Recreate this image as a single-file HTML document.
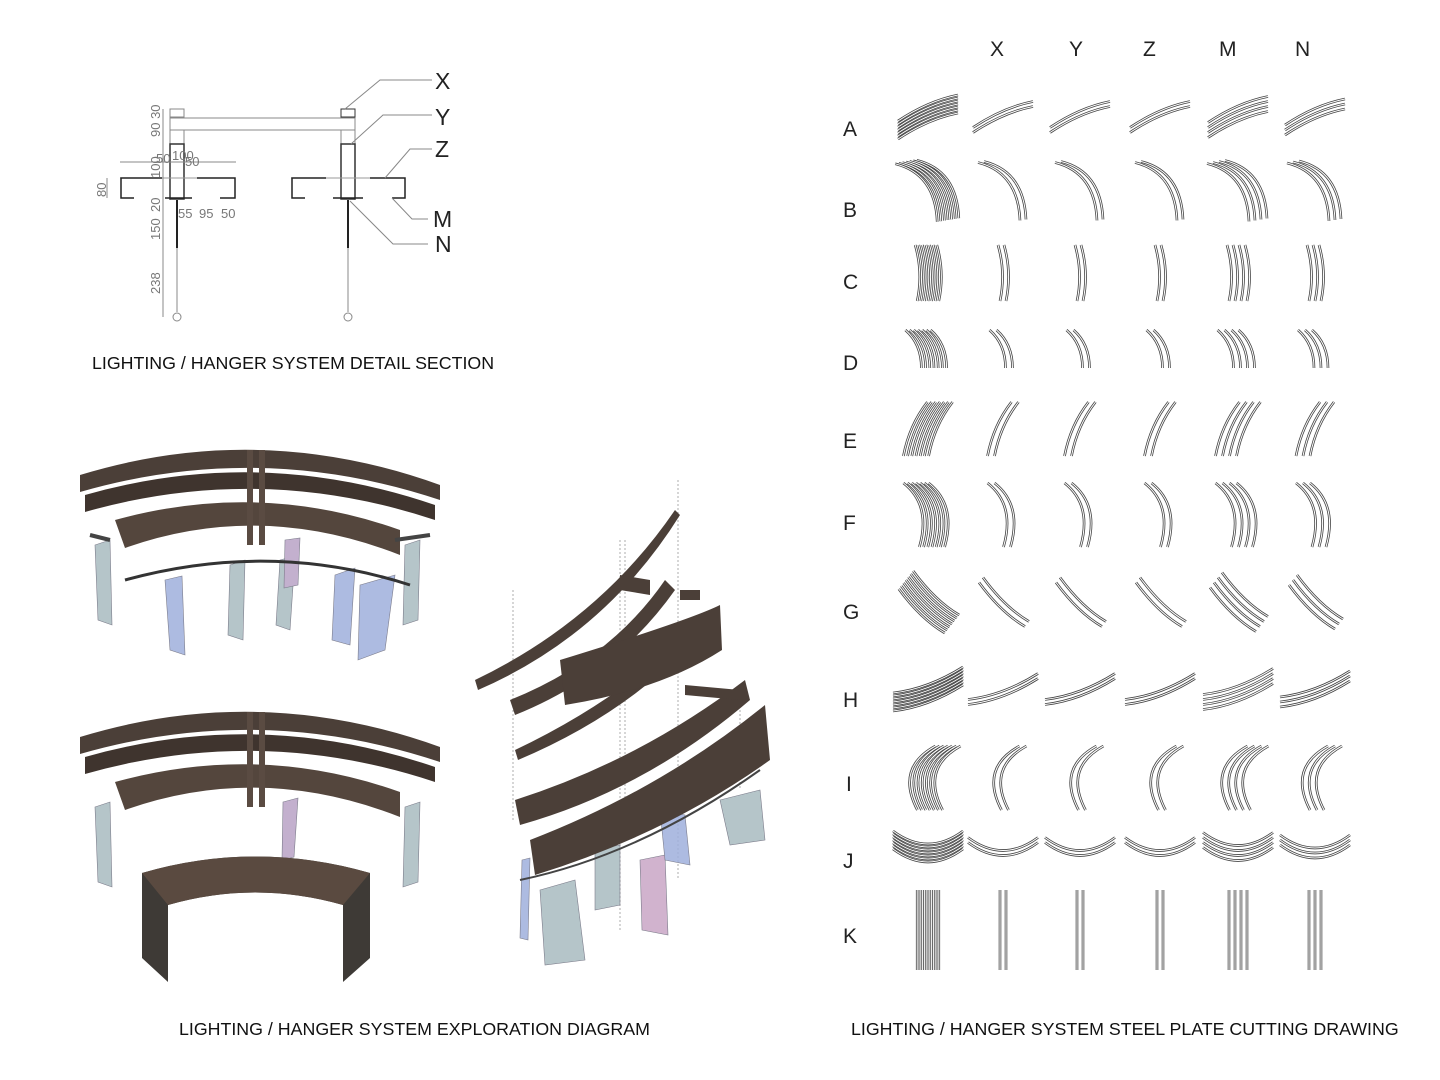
<!DOCTYPE html>
<html><head><meta charset="utf-8"><style>
body{margin:0;background:#fff;width:1440px;height:1080px;overflow:hidden}
svg{display:block}
text{font-family:"Liberation Sans",sans-serif}
</style></head><body>
<svg id="s" width="1440" height="1080" viewBox="0 0 1440 1080" xmlns="http://www.w3.org/2000/svg">
<rect width="1440" height="1080" fill="#fff"/>
<!-- detail section -->
<g stroke="#888" fill="none" stroke-width="1">
<rect x="170" y="109" width="14" height="8"/><rect x="341" y="109" width="14" height="8" stroke="#333"/>
<rect x="170" y="118" width="185" height="12"/>
<line x1="170" y1="130" x2="170" y2="200"/><line x1="184" y1="130" x2="184" y2="144"/>
<line x1="341" y1="130" x2="341" y2="144"/><line x1="355" y1="130" x2="355" y2="200"/>
<rect x="170" y="144" width="14" height="55" stroke="#333" stroke-width="1.5"/>
<rect x="341" y="144" width="14" height="55" stroke="#333" stroke-width="1.5"/>
<path d="M120 178 H235 M291 178 H405" stroke="#999"/>
<path d="M134 198 H121 V178 H162 M197 178 H235 V198 H220 M165 198 H192" stroke="#222" stroke-width="1.5"/>
<path d="M305 198 H292 V178 H326 M370 178 H405 V198 H392 M333 198 H363" stroke="#222" stroke-width="1.5"/>
<line x1="177" y1="200" x2="177" y2="248" stroke="#222" stroke-width="2"/>
<line x1="348" y1="200" x2="348" y2="248" stroke="#222" stroke-width="2"/>
<line x1="177" y1="248" x2="177" y2="312"/><line x1="348" y1="248" x2="348" y2="312"/>
<circle cx="177" cy="317" r="4"/><circle cx="348" cy="317" r="4"/>
<line x1="163" y1="109" x2="163" y2="317"/>
<line x1="120" y1="162" x2="236" y2="162"/><line x1="107" y1="178" x2="107" y2="198"/>
<path d="M345 109 L380 80 H432 M351 144 L383 115 H432 M385 178 L410 149 H432 M392 198 L412 219 H428 M350 201 L393 244 H428"/>
</g>
<g font-size="13" fill="#777">
<text x="160" y="137" transform="rotate(-90 160 137)">90 30</text>
<text x="160" y="178" transform="rotate(-90 160 178)">100</text>
<text x="160" y="212" transform="rotate(-90 160 212)">20</text>
<text x="160" y="240" transform="rotate(-90 160 240)">150</text>
<text x="160" y="294" transform="rotate(-90 160 294)">238</text>
<text x="106" y="197" transform="rotate(-90 106 197)">80</text>
<text x="156" y="163">50</text><text x="172" y="160">100</text><text x="185" y="166">50</text>
<text x="178" y="218">55</text><text x="199" y="218">95</text><text x="221" y="218">50</text>
</g>
<g font-size="23" fill="#222"><text x="435" y="89">X</text><text x="435" y="125">Y</text><text x="435" y="157">Z</text><text x="433" y="227">M</text><text x="435" y="252">N</text></g>
<g font-size="17.8" fill="#111">
<text x="92" y="369">LIGHTING / HANGER SYSTEM DETAIL SECTION</text>
<text x="179" y="1035">LIGHTING / HANGER SYSTEM EXPLORATION DIAGRAM</text>
<text x="851" y="1035">LIGHTING / HANGER SYSTEM STEEL PLATE CUTTING DRAWING</text>
</g>
<!-- 3D structures -->
<g id="top">
<g fill="#a9bcc0" stroke="#667" stroke-width=".6" opacity=".85">
<path d="M95 545 L110 540 L112 625 L98 620Z"/><path d="M165 580 L182 576 L185 655 L170 650Z" fill="#9fb0dc"/>
<path d="M230 565 L245 560 L243 640 L228 635Z"/><path d="M280 560 L295 556 L290 630 L276 625Z"/>
<path d="M285 540 L300 538 L298 585 L284 588Z" fill="#b9a3c6"/>
<path d="M335 575 L355 568 L350 645 L332 640Z" fill="#9fb0dc"/><path d="M360 585 L395 575 L385 650 L358 660Z" fill="#9fb0dc"/>
<path d="M405 545 L420 540 L418 620 L403 625Z"/>
</g>
<path d="M125 580 Q270 540 410 585" stroke="#333" stroke-width="3" fill="none"/>
<path d="M80 475 Q260 420 440 485 L440 500 Q260 440 80 492Z" fill="#4b3f38"/>
<path d="M85 495 Q260 445 435 505 L435 520 Q260 462 85 512Z" fill="#3f342e"/>
<path d="M115 520 Q260 480 400 530 L400 555 Q260 500 125 548Z" fill="#54463d"/>
<path d="M90 535 L110 540 M395 540 L430 535" stroke="#444" stroke-width="4"/>
<path d="M250 450 V545 M262 450 V545" stroke="#5a4b42" stroke-width="6"/>
</g>
<g transform="translate(0,262)">
<g fill="#a9bcc0" stroke="#667" stroke-width=".6" opacity=".85">
<path d="M95 545 L110 540 L112 625 L98 620Z"/><path d="M283 540 L298 536 L294 595 L282 598Z" fill="#b9a3c6"/><path d="M405 545 L420 540 L418 620 L403 625Z"/>
</g>
<path d="M80 475 Q260 420 440 485 L440 500 Q260 440 80 492Z" fill="#4b3f38"/>
<path d="M85 495 Q260 445 435 505 L435 520 Q260 462 85 512Z" fill="#3f342e"/>
<path d="M115 520 Q260 480 400 530 L400 555 Q260 500 125 548Z" fill="#54463d"/>
<path d="M250 450 V545 M262 450 V545" stroke="#5a4b42" stroke-width="6"/>
</g>
<path d="M142 873 Q255 840 370 873 L370 958 L343 982 L343 905 Q255 880 168 905 L168 982 L142 958Z" fill="#3e3a36"/>
<path d="M142 873 Q255 840 370 873 L343 905 Q255 880 168 905Z" fill="#5a4a40"/>
<!-- exploded -->
<g stroke="#999" stroke-width=".8" stroke-dasharray="2 2"><path d="M513 590 V820 M620 540 V930 M625 540 V840 M678 480 V880 M740 690 V790"/></g>
<g fill="#a9bcc0" stroke="#667" stroke-width=".6" opacity=".85">
<path d="M522 860 L530 858 L528 940 L520 938Z" fill="#9fb0dc"/><path d="M540 890 L575 880 L585 960 L545 965Z"/>
<path d="M595 850 L620 845 L620 905 L595 910Z"/><path d="M640 860 L665 855 L668 935 L642 930Z" fill="#c9a6c6"/>
<path d="M660 810 L685 815 L690 865 L665 860Z" fill="#9fb0dc"/><path d="M720 800 L760 790 L765 840 L730 845Z"/>
</g>
<g fill="#4b3f38">
<path d="M475 680 Q600 620 675 510 L680 515 Q605 635 478 690Z"/>
<path d="M510 700 Q610 660 665 580 L675 590 Q615 675 515 715Z"/>
<path d="M515 750 Q620 700 690 630 L695 640 Q625 715 518 760Z"/>
<path d="M560 660 Q690 620 720 605 L722 650 Q660 690 565 705Z"/>
<path d="M515 800 Q640 760 745 680 L750 700 Q645 790 520 825Z"/>
<path d="M530 840 Q660 790 765 705 L770 760 Q665 835 535 875Z"/>
<path d="M620 575 L650 580 L650 595 L620 590Z M680 590 L700 590 L700 600 L680 600Z M685 685 L740 690 L740 700 L685 695Z"/>
</g>
<g stroke="#444" stroke-width="2" fill="none"><path d="M520 880 Q640 855 760 770"/></g>
<!-- grid -->
<g font-size="21" fill="#222">
<text x="990" y="56">X</text><text x="1069" y="56">Y</text><text x="1143" y="56">Z</text><text x="1219" y="56">M</text><text x="1295" y="56">N</text>
<text x="843" y="136">A</text><text x="843" y="217">B</text><text x="843" y="289">C</text><text x="843" y="370">D</text><text x="843" y="448">E</text><text x="843" y="530">F</text><text x="843" y="619">G</text><text x="843" y="707">H</text><text x="846" y="791">I</text><text x="843" y="868">J</text><text x="843" y="943">K</text>
</g>
<g id="grid" fill="none"></g>
</svg>
<script>
var rows=[
[118,"M-30 12 Q0 -8 30 -14",0,5],
[190,"M-22 -28 Q18 -18 20 30",-6,1],
[273,"M-2 -28 Q6 0 0 28",6,0],
[348,"M-10 -18 Q6 -4 6 20",7,0],
[430,"M-12 26 Q-6 -5 12 -28",7,0],
[515,"M-12 -32 Q16 -10 4 32",7,0],
[602,"M-22 -22 Q0 8 24 22",4,-5],
[688,"M-35 14 Q0 10 35 -12",0,5],
[778,"M20 -32 Q-20 -10 2 32",7,0],
[848,"M-35 -8 Q0 18 35 -8",0,5],
[930,"M0 -40 L0 40",6,0]];
var cols=[[928,7],[1003,2],[1080,2],[1160,2],[1238,4],[1315,3]];
var g=document.getElementById("grid"),h="";
rows.forEach(function(r){cols.forEach(function(c,i){var n=c[1];for(var k=0;k<n;k++){var ox=(k-(n-1)/2)*r[2]*(i?1:0.6),oy=(k-(n-1)/2)*r[3]*(i?1:0.6);
var t='transform="translate('+(c[0]+ox)+','+(r[0]+oy)+')" d="'+r[1]+'"';
h+='<path '+t+' stroke="#444" stroke-width="2.6"/><path '+t+' stroke="#fff" stroke-width="1"/>';}});});
g.innerHTML=h;
</script>
</body></html>
